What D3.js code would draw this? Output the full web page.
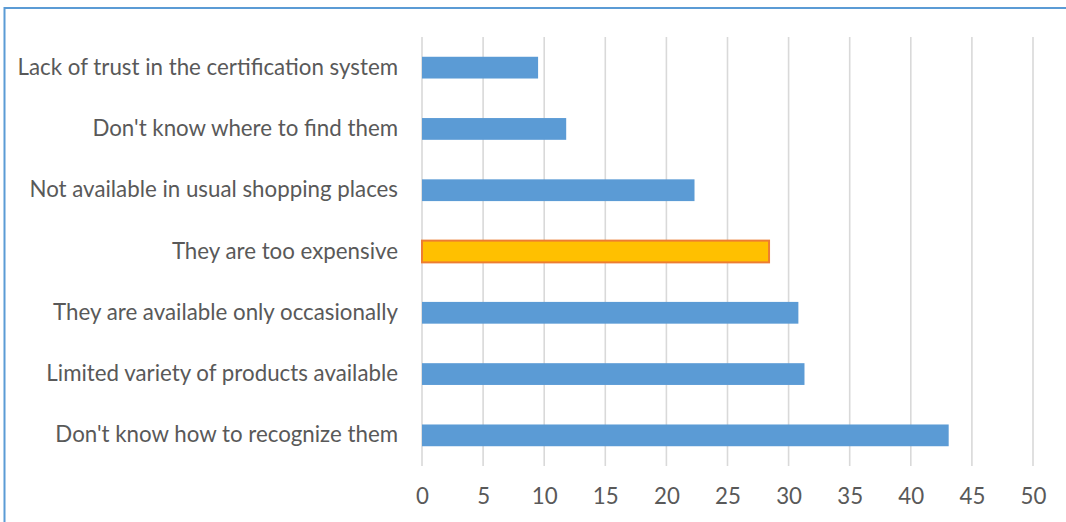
<!DOCTYPE html>
<html>
<head>
<meta charset="utf-8">
<script src="https://cdn.jsdelivr.net/npm/d3@7"></script>
<style>
  body { margin: 0; background: #fff; }
  svg text { font-family: Lato, "Open Sans", sans-serif; fill: #595959; }
</style>
</head>
<body>
<svg></svg>
<script>
let categories = [
    'Lack of trust in the certification system',
    "Don't know where to find them",
    'Not available in usual shopping places',
    'They are too expensive',
    'They are available only occasionally',
    'Limited variety of products available',
    "Don't know how to recognize them"
]
let values = [9.5, 11.8, 22.3, 28.4, 30.8, 31.3, 43.1]
let highlighted = ['They are too expensive']
let xTicks = [0, 5, 10, 15, 20, 25, 30, 35, 40, 45, 50]

let width = 1066
let height = 522
let plotLeft = 422
let plotRight = 1033
let plotTop = 37
let plotBottom = 466

let svg = d3.select('svg')
svg.attr('width', width).attr('height', height)

// frame
svg.append('path')
   .attr('d', 'M4.5,' + height + ' V8 H' + width)
   .attr('fill', 'none')
   .attr('stroke', '#5b9bd5')
   .attr('stroke-width', 2)

let xScale = d3.scaleLinear()
               .domain([0, 50])
               .range([plotLeft, plotRight])

let yScale = d3.scaleBand()
               .domain(categories)
               .range([plotTop, plotBottom])
               .paddingInner(0.645)
               .paddingOuter(0.3225)

// gridlines
svg.append('g')
   .selectAll('line')
   .data(xTicks)
   .enter()
   .append('line')
   .attr('x1', d => xScale(d))
   .attr('x2', d => xScale(d))
   .attr('y1', plotTop)
   .attr('y2', plotBottom)
   .attr('stroke', '#d9d9d9')
   .attr('stroke-width', 1.6)

// bars
svg.append('g')
   .selectAll('rect')
   .data(values)
   .enter()
   .append('rect')
   .attr('x', xScale(0))
   .attr('y', (d, i) => yScale(categories[i]))
   .attr('width', d => xScale(d) - xScale(0))
   .attr('height', yScale.bandwidth())
   .attr('fill', (d, i) => highlighted.includes(categories[i]) ? '#ffc000' : '#5b9bd5')
   .attr('stroke', (d, i) => highlighted.includes(categories[i]) ? '#ed7d31' : 'none')
   .attr('stroke-width', 2)

// category labels
let yAxis = d3.axisLeft(yScale).tickSize(0).tickPadding(0)
let yG = svg.append('g')
   .attr('transform', 'translate(398, 0)')
   .call(yAxis)
yG.select('.domain').remove()
yG.selectAll('text')
  .attr('font-size', 22.3)
  .style('font-family', 'Lato, "Open Sans", sans-serif')
  .attr('fill', '#595959')

// x axis labels
let xAxis = d3.axisBottom(xScale).tickValues(xTicks).tickSize(0).tickPadding(0)
let xG = svg.append('g')
   .attr('transform', 'translate(0, 488)')
   .call(xAxis)
xG.select('.domain').remove()
xG.selectAll('text')
  .attr('font-size', 22.3)
  .style('font-family', 'Lato, "Open Sans", sans-serif')
  .attr('fill', '#595959')
</script>
</body>
</html>
